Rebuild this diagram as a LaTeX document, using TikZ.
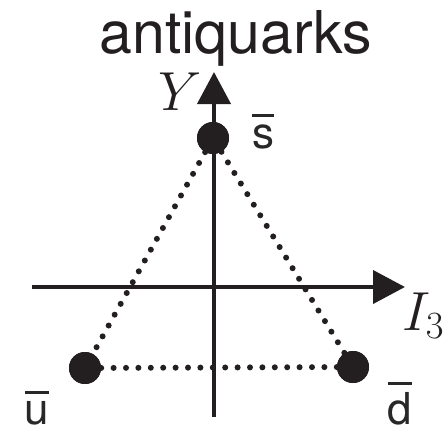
\RequirePackage{fix-cm}
\documentclass[tikz,border=0pt]{standalone}
\usepackage{fontspec}
\setmainfont{TeX Gyre Heros}
\usetikzlibrary{arrows.meta}
\definecolor{ink}{RGB}{35,31,32}
\definecolor{lab}{RGB}{40,40,40}
\newcommand\ovlet[1]{\leavevmode\vbox{\hrule height 3pt\kern 7pt\hbox{#1}}}
\tikzset{
  axis/.style={line width=4pt, draw=ink, -{Triangle[length=32pt,width=33pt]}},
  quark/.style={circle, fill=ink, minimum size=32pt, inner sep=0pt},
  edge/.style={line width=6pt, draw=ink, line cap=round, dash pattern=on 0pt off 12.4pt},
  qlabel/.style={text=lab, font=\fontsize{44}{44}\selectfont, inner sep=0pt, anchor=base},
  mlabel/.style={text=ink, font=\fontsize{55}{55}\selectfont, inner sep=0pt},
}
\begin{document}
\begin{tikzpicture}[x=1pt,y=-1pt]
\useasboundingbox (0,0) rectangle (444,431);
\node[text=ink, font=\fontsize{59}{59}\selectfont, inner sep=0pt, anchor=base] (title) at (236,53) {antiquarks};
\coordinate (xs) at (32,287);
\coordinate (xe) at (405,287);
\coordinate (ys) at (214,417);
\coordinate (ye) at (214,72);
\node[quark] (s) at (213,138) {};
\node[quark] (u) at (85,368) {};
\node[quark] (d) at (353,367) {};
\draw[edge] (s) -- (u);
\draw[edge] (s) -- (d);
\draw[edge] (u) -- (d);
\draw[axis] (xs) -- (xe);
\draw[axis] (ys) -- (ye);
\node[quark] at (s) {};
\node[quark] at (u) {};
\node[quark] at (d) {};
\node[mlabel, anchor=base east] (Y) at (202,110) {$Y$};
\node[mlabel, anchor=base west] (I) at (402,330) {$I_3$};
\node[qlabel] (sl) at (263,148) {\ovlet{s}};
\node[qlabel] (ul) at (37,424) {\ovlet{u}};
\node[qlabel] (dl) at (400,424) {\ovlet{d}};
\end{tikzpicture}
\end{document}
